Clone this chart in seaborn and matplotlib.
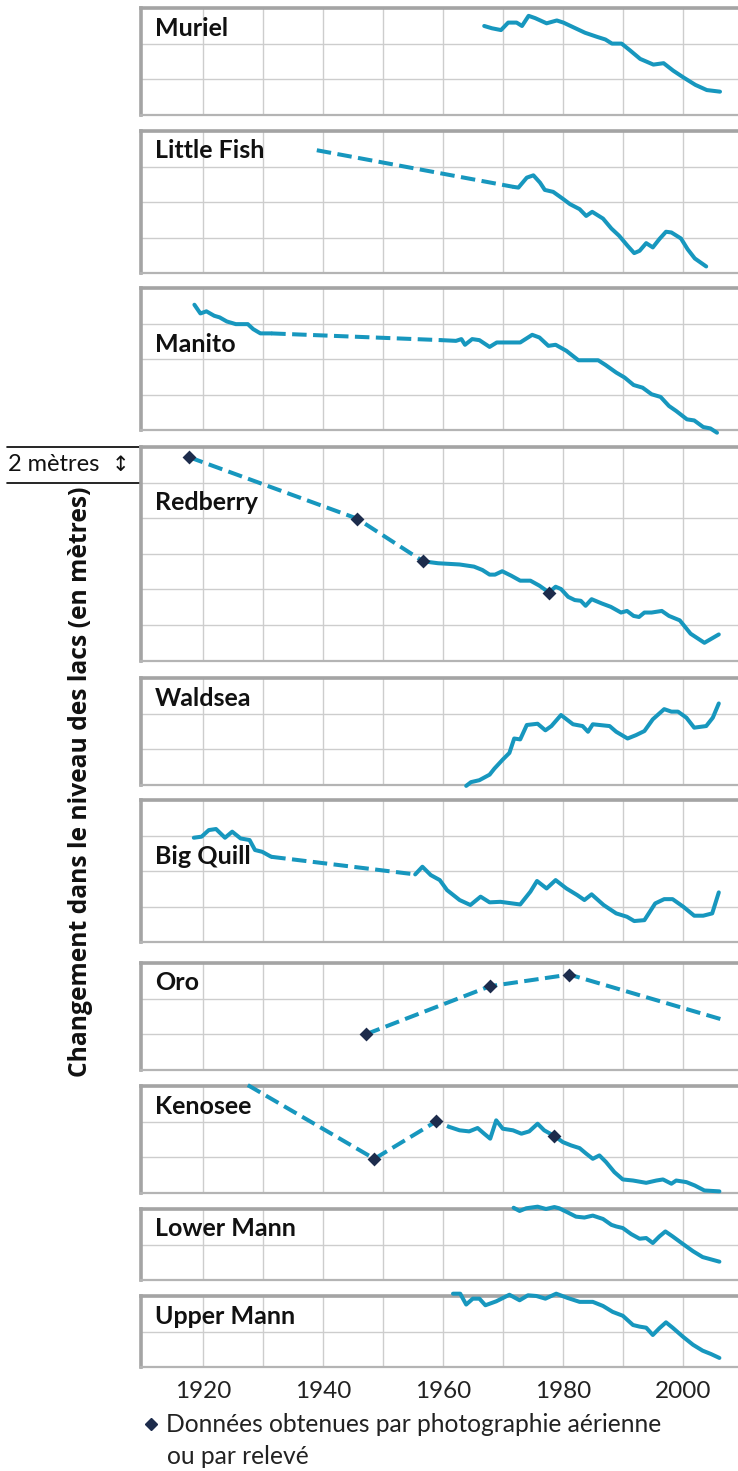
import matplotlib
matplotlib.use("Agg")
import matplotlib.pyplot as plt
from matplotlib.lines import Line2D
import pandas as pd
import seaborn as sns

LAKES = ["Muriel", "Little Fish", "Manito", "Redberry", "Waldsea",
         "Big Quill", "Oro", "Kenosee", "Lower Mann", "Upper Mann"]
PANEL_RANGE_M = [6, 8, 8, 12, 6, 8, 6, 6, 4, 4]
YEAR_TICKS = [1920, 1940, 1960, 1980, 2000]

# lake level (m above the bottom of each panel)
MURIEL_YEAR = [1966.9, 1968.2, 1969.7, 1970.9, 1972.3, 1973.2, 1974.3, 1975.4, 1977.3,
               1979.0, 1980.1, 1981.8, 1983.7, 1985.7, 1987.1, 1988.2, 1989.8, 1991.2,
               1992.9, 1995.1, 1996.8, 1998.4, 2000.1, 2002.1, 2004.0, 2006.2]
MURIEL_LEVEL = [4.99, 4.86, 4.76, 5.18, 5.18, 4.99, 5.56, 5.43, 5.14, 5.30, 5.18, 4.91,
                4.61, 4.38, 4.23, 4.00, 4.00, 3.62, 3.14, 2.82, 2.90, 2.48, 2.10, 1.68,
                1.39, 1.30]

LITTLE_FISH_GAP_YEAR = [1939.0, 1971.8]
LITTLE_FISH_GAP_LEVEL = [6.92, 4.86]
LITTLE_FISH_YEAR = [1971.8, 1972.6, 1974.0, 1975.1, 1976.2, 1977.0, 1978.4, 1980.1,
                    1981.2, 1982.8, 1983.9, 1984.9, 1986.7, 1988.1, 1989.4, 1990.8,
                    1991.9, 1992.8, 1993.9, 1995.0, 1996.1, 1997.2, 1998.1, 1999.7,
                    2000.8, 2002.0, 2003.9]
LITTLE_FISH_LEVEL = [4.86, 4.82, 5.38, 5.51, 5.10, 4.69, 4.58, 4.17, 3.89, 3.61, 3.23,
                     3.46, 3.08, 2.52, 2.11, 1.55, 1.14, 1.27, 1.70, 1.46, 1.93, 2.34,
                     2.30, 1.96, 1.36, 0.84, 0.39]

MANITO_EARLY_YEAR = [1918.6, 1919.6, 1920.6, 1921.9, 1922.8, 1924.0, 1925.5, 1927.5,
                     1928.4, 1929.6, 1931.4]
MANITO_EARLY_LEVEL = [7.06, 6.57, 6.69, 6.44, 6.35, 6.12, 5.97, 5.97, 5.69, 5.45, 5.45]
MANITO_GAP_YEAR = [1931.4, 1959.8]
MANITO_GAP_LEVEL = [5.45, 5.07]
MANITO_YEAR = [1959.8, 1962.2, 1963.1, 1963.7, 1964.9, 1966.1, 1967.8, 1969.0, 1972.9,
               1974.9, 1976.1, 1977.6, 1978.8, 1980.6, 1982.6, 1985.9, 1987.1, 1988.9,
               1990.3, 1991.8, 1993.3, 1994.8, 1996.3, 1997.7, 1998.9, 2000.7, 2001.9,
               2003.4, 2004.6, 2005.7]
MANITO_LEVEL = [5.07, 5.03, 5.13, 4.81, 5.13, 5.07, 4.69, 4.94, 4.94, 5.37, 5.22, 4.75,
                4.81, 4.47, 3.94, 3.94, 3.68, 3.25, 2.97, 2.55, 2.40, 2.03, 1.88, 1.37,
                1.09, 0.62, 0.56, 0.19, 0.11, -0.13]

REDBERRY_SURVEY_YEAR = [1917.7, 1945.7, 1956.7, 1977.7]
REDBERRY_SURVEY_LEVEL = [11.43, 7.98, 5.58, 3.79]
REDBERRY_GAP_YEAR = [1917.7, 1945.7, 1956.7]
REDBERRY_GAP_LEVEL = [11.43, 7.98, 5.58]
REDBERRY_YEAR = [1956.7, 1959.2, 1962.8, 1965.2, 1966.6, 1967.8, 1968.7, 1969.9, 1971.4,
                 1972.9, 1974.6, 1976.1, 1977.7, 1978.8, 1979.7, 1980.9, 1982.0, 1983.0,
                 1983.8, 1984.8, 1986.5, 1988.0, 1989.7, 1990.7, 1991.8, 1992.7, 1993.6,
                 1994.8, 1996.5, 1997.7, 1999.5, 2001.3, 2003.6, 2006.0]
REDBERRY_LEVEL = [5.58, 5.47, 5.40, 5.28, 5.09, 4.83, 4.83, 5.02, 4.77, 4.49, 4.49, 4.21,
                  3.83, 4.15, 4.02, 3.58, 3.40, 3.36, 3.08, 3.45, 3.21, 3.02, 2.70, 2.79,
                  2.51, 2.45, 2.70, 2.70, 2.79, 2.51, 2.26, 1.51, 1.00, 1.47]

WALDSEA_YEAR = [1963.9, 1964.7, 1966.1, 1967.8, 1968.6, 1970.0, 1971.1, 1971.9, 1972.9,
                1974.0, 1975.8, 1977.1, 1978.1, 1979.7, 1981.7, 1983.3, 1984.2, 1985.0,
                1987.8, 1988.9, 1990.8, 1992.2, 1993.6, 1995.0, 1996.9, 1998.1, 1999.2,
                2000.6, 2001.9, 2003.9, 2005.0, 2006.0]
WALDSEA_LEVEL = [-0.06, 0.15, 0.26, 0.57, 0.91, 1.42, 1.79, 2.60, 2.55, 3.36, 3.43, 3.06,
                 3.30, 3.92, 3.40, 3.30, 2.98, 3.40, 3.30, 2.98, 2.60, 2.79, 3.02, 3.68,
                 4.25, 4.11, 4.11, 3.77, 3.21, 3.30, 3.77, 4.57]

BIG_QUILL_EARLY_YEAR = [1918.5, 1919.8, 1921.0, 1922.2, 1923.7, 1924.9, 1926.3, 1927.8,
                        1928.7, 1929.9, 1931.4]
BIG_QUILL_EARLY_LEVEL = [5.88, 5.94, 6.31, 6.37, 5.88, 6.22, 5.84, 5.75, 5.19, 5.09, 4.81]
BIG_QUILL_GAP_YEAR = [1931.4, 1955.4]
BIG_QUILL_GAP_LEVEL = [4.81, 3.82]
BIG_QUILL_YEAR = [1955.4, 1956.6, 1958.0, 1959.5, 1960.7, 1962.8, 1964.6, 1966.3, 1967.8,
                  1969.6, 1972.9, 1974.6, 1975.7, 1977.3, 1978.8, 1980.6, 1982.4, 1983.6,
                  1984.8, 1986.8, 1988.9, 1990.7, 1991.9, 1993.6, 1995.4, 1996.9, 1998.3,
                  2000.1, 2001.9, 2003.4, 2004.9, 2006.0]
BIG_QUILL_LEVEL = [3.82, 4.25, 3.78, 3.50, 2.94, 2.38, 2.10, 2.57, 2.25, 2.28, 2.13, 2.85,
                   3.45, 3.03, 3.50, 3.03, 2.66, 2.38, 2.70, 2.10, 1.63, 1.44, 1.20, 1.25,
                   2.19, 2.43, 2.43, 2.00, 1.50, 1.50, 1.63, 2.81]

ORO_SURVEY_YEAR = [1947.2, 1967.9, 1981.1]
ORO_SURVEY_LEVEL = [2.0, 4.7, 5.35]
ORO_GAP_YEAR = [1947.2, 1967.9, 1981.1, 2006.3]
ORO_GAP_LEVEL = [2.0, 4.7, 5.35, 2.85]

KENOSEE_SURVEY_YEAR = [1948.6, 1958.9, 1978.6]
KENOSEE_SURVEY_LEVEL = [1.91, 4.01, 3.19]
KENOSEE_GAP_YEAR = [1927.5, 1948.6, 1958.9, 1961.1]
KENOSEE_GAP_LEVEL = [6.05, 1.91, 4.01, 3.70]
KENOSEE_YEAR = [1961.1, 1962.8, 1964.4, 1965.8, 1966.9, 1967.9, 1968.9, 1970.0, 1971.7,
                1973.1, 1974.4, 1975.8, 1976.9, 1978.6, 1980.0, 1981.4, 1982.8, 1983.9,
                1985.0, 1986.1, 1987.2, 1988.6, 1990.0, 1991.7, 1993.9, 1995.6, 1996.7,
                1998.1, 1998.9, 2000.6, 2002.0, 2003.6, 2006.1]
KENOSEE_LEVEL = [3.70, 3.51, 3.45, 3.64, 3.32, 3.04, 4.07, 3.60, 3.51, 3.32, 3.45, 3.88,
                 3.51, 3.19, 2.85, 2.66, 2.51, 2.20, 1.91, 2.10, 1.73, 1.16, 0.75, 0.69,
                 0.56, 0.69, 0.75, 0.51, 0.69, 0.60, 0.41, 0.13, 0.08]

LOWER_MANN_YEAR = [1971.8, 1972.8, 1973.9, 1975.8, 1977.2, 1978.6, 1979.4, 1980.8, 1982.2,
                   1983.6, 1985.0, 1986.7, 1988.1, 1988.9, 1990.0, 1991.4, 1992.8, 1993.9,
                   1995.0, 1996.1, 1997.1, 1998.3, 2000.0, 2001.7, 2003.3, 2004.7, 2006.1]
LOWER_MANN_LEVEL = [4.07, 3.89, 4.04, 4.13, 4.00, 4.11, 4.04, 3.81, 3.57, 3.52, 3.63,
                    3.44, 3.11, 3.02, 2.93, 2.59, 2.33, 2.37, 2.09, 2.46, 2.74, 2.46,
                    2.04, 1.63, 1.30, 1.17, 1.04]

UPPER_MANN_YEAR = [1961.7, 1962.9, 1963.9, 1965.0, 1966.1, 1967.1, 1968.9, 1971.1, 1972.8,
                   1974.2, 1975.6, 1977.1, 1978.9, 1980.8, 1982.8, 1985.0, 1986.7, 1988.3,
                   1990.0, 1991.7, 1992.8, 1993.9, 1995.0, 1996.1, 1997.2, 1998.3, 2000.0,
                   2001.7, 2003.3, 2004.7, 2006.1]
UPPER_MANN_LEVEL = [4.13, 4.13, 3.52, 3.85, 3.85, 3.48, 3.70, 4.07, 3.76, 4.04, 4.00,
                    3.85, 4.13, 3.89, 3.67, 3.67, 3.44, 3.11, 2.89, 2.37, 2.28, 2.22,
                    1.81, 2.19, 2.52, 2.22, 1.72, 1.26, 0.93, 0.74, 0.52]

SEGMENTS = [
    ("Muriel", "solid", MURIEL_YEAR, MURIEL_LEVEL),
    ("Little Fish", "dashed", LITTLE_FISH_GAP_YEAR, LITTLE_FISH_GAP_LEVEL),
    ("Little Fish", "solid", LITTLE_FISH_YEAR, LITTLE_FISH_LEVEL),
    ("Manito", "solid", MANITO_EARLY_YEAR, MANITO_EARLY_LEVEL),
    ("Manito", "dashed", MANITO_GAP_YEAR, MANITO_GAP_LEVEL),
    ("Manito", "solid", MANITO_YEAR, MANITO_LEVEL),
    ("Redberry", "dashed", REDBERRY_GAP_YEAR, REDBERRY_GAP_LEVEL),
    ("Redberry", "solid", REDBERRY_YEAR, REDBERRY_LEVEL),
    ("Waldsea", "solid", WALDSEA_YEAR, WALDSEA_LEVEL),
    ("Big Quill", "solid", BIG_QUILL_EARLY_YEAR, BIG_QUILL_EARLY_LEVEL),
    ("Big Quill", "dashed", BIG_QUILL_GAP_YEAR, BIG_QUILL_GAP_LEVEL),
    ("Big Quill", "solid", BIG_QUILL_YEAR, BIG_QUILL_LEVEL),
    ("Oro", "dashed", ORO_GAP_YEAR, ORO_GAP_LEVEL),
    ("Kenosee", "dashed", KENOSEE_GAP_YEAR, KENOSEE_GAP_LEVEL),
    ("Kenosee", "solid", KENOSEE_YEAR, KENOSEE_LEVEL),
    ("Lower Mann", "solid", LOWER_MANN_YEAR, LOWER_MANN_LEVEL),
    ("Upper Mann", "solid", UPPER_MANN_YEAR, UPPER_MANN_LEVEL),
]
SURVEYS = [
    ("Redberry", REDBERRY_SURVEY_YEAR, REDBERRY_SURVEY_LEVEL),
    ("Oro", ORO_SURVEY_YEAR, ORO_SURVEY_LEVEL),
    ("Kenosee", KENOSEE_SURVEY_YEAR, KENOSEE_SURVEY_LEVEL),
]

LINE = "#1797be"
NAVY = "#1d2c4c"
GRID = "#cdcdcd"
FRAME = "#a4a4a4"

W, H = 738, 1471
PANEL_TOP_PX = [8, 131, 288, 447, 678, 800, 963, 1086, 1209, 1296]
PX_PER_2M = 35.6
LABEL_DROP_PX = [20, 19, 57, 55, 20, 57, 20, 20, 20, 21]
PT = 0.72  # points per pixel at dpi 100


def main():
    sns.set_theme(style="white")
    plt.rcParams["font.family"] = ["Lato", "DejaVu Sans"]

    rows = []
    for k, (lake, style, years, levels) in enumerate(SEGMENTS):
        for y, v in zip(years, levels):
            rows.append({"lake": lake, "seg": k, "style": style, "year": y, "level": v})
    df = pd.DataFrame(rows)

    fig = plt.figure(figsize=(W / 100, H / 100), dpi=100)
    fig.patch.set_facecolor("white")

    for i, lake in enumerate(LAKES):
        span = PANEL_RANGE_M[i]
        h = span / 2 * PX_PER_2M
        top = PANEL_TOP_PX[i]
        ax = fig.add_axes([141 / W, 1 - (top + h) / H, 597 / W, h / H])

        for (seg, style), g in df[df["lake"] == lake].groupby(["seg", "style"]):
            ls = (0, (3.6, 1.6)) if style == "dashed" else "-"
            sns.lineplot(data=g, x="year", y="level", ax=ax, color=LINE, lw=2.9,
                         linestyle=ls, sort=False, estimator=None, clip_on=False,
                         zorder=3, solid_joinstyle="round", solid_capstyle="round")

        for name, years, levels in SURVEYS:
            if name == lake:
                sns.scatterplot(x=years, y=levels, ax=ax, marker="D", s=50,
                                color=NAVY, linewidth=0, zorder=5, clip_on=False)

        ax.set_xlim(1909.7, 2009.2)
        ax.set_ylim(0, span)
        ax.set_xticks(YEAR_TICKS)
        ax.set_xticks([1930, 1950, 1970, 1990], minor=True)
        ax.set_yticks(range(0, span + 1, 2))
        ax.set_yticklabels([])
        ax.grid(True, which="both", color=GRID, lw=1.0)
        ax.set_axisbelow(True)
        ax.set_xlabel("")
        ax.set_ylabel("")
        ax.tick_params(length=0, which="both")
        ax.tick_params(axis="x", labelsize=17.5, pad=10, colors="#222222")
        if i < len(LAKES) - 1:
            ax.tick_params(labelbottom=False)

        ax.spines["right"].set_visible(False)
        ax.spines["top"].set_color(FRAME)
        ax.spines["top"].set_linewidth(2.6)
        ax.spines["left"].set_color(FRAME)
        ax.spines["left"].set_linewidth(2.6)
        ax.spines["bottom"].set_color("#b4b4b4")
        ax.spines["bottom"].set_linewidth(1.6)

        ax.annotate(lake, xy=(0, 1), xycoords="axes fraction",
                    xytext=(14 * PT, -LABEL_DROP_PX[i] * PT), textcoords="offset points",
                    ha="left", va="center", fontsize=18, fontweight="bold",
                    color="#111111")

        if lake == "Redberry":
            tr = ax.get_yaxis_transform()
            for yv in (span, span - 2):
                ax.plot([-0.2245, 0], [yv, yv], transform=tr, clip_on=False,
                        color="black", lw=1.2)
            ax.text(-0.222, span - 1, "2 mètres", transform=tr, ha="left",
                    va="center", fontsize=17, color="#111111")
            ax.text(-0.035, span - 1, "↕", transform=tr, ha="center", va="center",
                    fontsize=15, color="#111111", family=["DejaVu Sans"])

    fig.text(81 / W, 1 - 782 / H, "Changement dans le niveau des lacs (en mètres)",
             rotation=90, ha="center", va="center", fontsize=17.7, fontweight="bold",
             family=["Open Sans", "DejaVu Sans"], color="#111111")

    handle = Line2D([], [], marker="D", ls="none", color=NAVY, markersize=6.5)
    fig.legend(handles=[handle], labels=["Données obtenues par photographie aérienne"],
               loc="center left", bbox_to_anchor=(140 / W, 1 - 1425 / H),
               frameon=False, fontsize=17.7, handletextpad=0.15, handlelength=0.9,
               borderpad=0, borderaxespad=0, labelcolor="#222222")
    fig.text(167 / W, 1 - 1457 / H, "ou par relevé", ha="left", va="center",
             fontsize=17.7, color="#222222")

    fig.savefig("out.png", dpi=100, facecolor="white")


if __name__ == "__main__":
    main()
